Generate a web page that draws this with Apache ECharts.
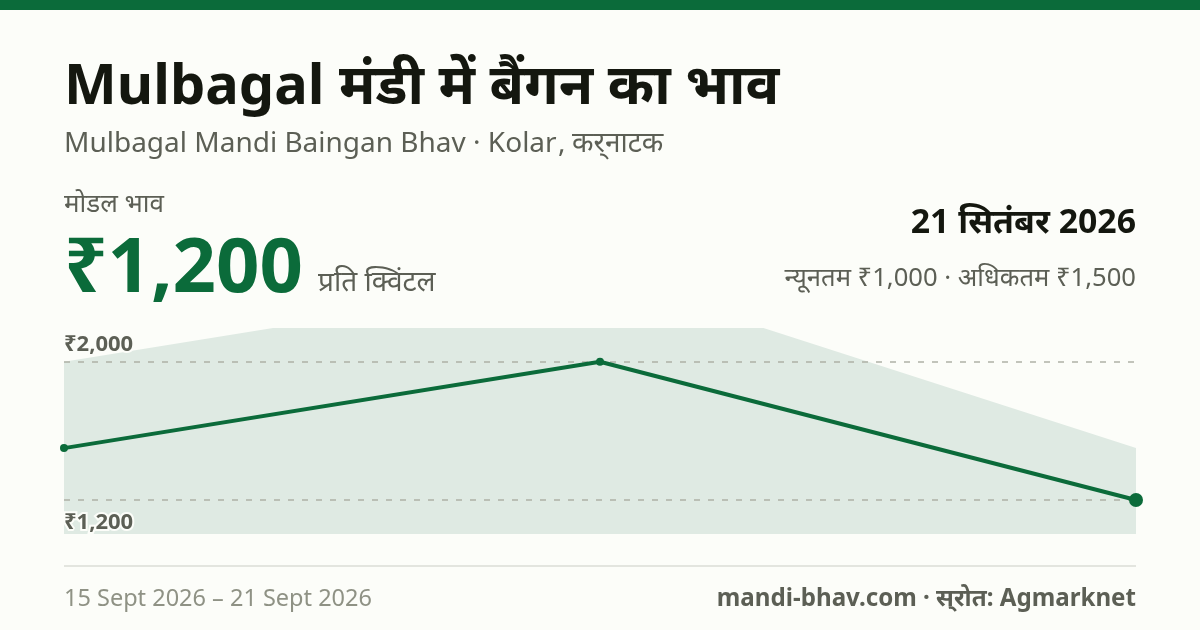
<!DOCTYPE html>
<html>
<head>
<meta charset="utf-8">
<style>
html,body{margin:0;padding:0;background:#fcfdf9}
#main{width:1200px;height:630px}
</style>
<script src="https://cdn.jsdelivr.net/npm/echarts@6/dist/echarts.min.js"></script>
</head>
<body>
<div id="main"></div>
<script>
var dates = ['15 Sept 2026', '18 Sept 2026', '21 Sept 2026']
var modalPrices = [1500, 2000, 1200]
var minPrices = [1000, 1000, 1000]
var maxPrices = [2000, 2500, 1500]
var refLines = [2000, 1200]
var refLabels = ['₹2,000', '₹1,200']
var pointSizes = [8, 8, 14]

var font = '"Noto Sans", "Noto Sans Devanagari", sans-serif'
var green = '#0b6b3a'
var grey = '#5c5f55'

// y is the vertical middle of the text line
function label(x, y, text, size, weight, color, align) {
    return {
        type: 'text', x: x, y: y, silent: true,
        style: {
            text: text, fontFamily: font, fontSize: size, fontWeight: weight,
            fill: color, textAlign: align || 'left', textVerticalAlign: 'middle'
        }
    }
}

var myChart = echarts.init(document.getElementById('main'))
myChart.setOption({
    animation: false,
    backgroundColor: '#fcfdf9',
    grid: { left: 64, right: 64, top: 328, bottom: 96 },
    xAxis: { type: 'category', data: dates, boundaryGap: false, show: false },
    yAxis: { type: 'value', min: 1003, max: 2195, show: false },
    graphic: [
        { type: 'rect', x: 0, y: 0, shape: { width: 1200, height: 10 }, style: { fill: green } },
        { type: 'rect', x: 64, y: 565, shape: { width: 1072, height: 2 }, style: { fill: '#e3e5df' } },
        label(64, 88, 'Mulbagal मंडी में बैंगन का भाव', 56, 700, '#14170f'),
        label(64, 144, 'Mulbagal Mandi Baingan Bhav · Kolar', 28, 400, grey),
        label(558, 144, ',', 28, 400, grey),
        label(572, 144, 'कर्‌नाटक', 28, 400, grey),
        label(64, 205, 'मोडल भाव', 26, 400, grey),
        label(64, 270, '₹1,200', 76, 700, green),
        label(318, 283, 'प्रति क्विंटल', 28, 400, grey),
        label(1136, 223, '21 सितंबर 2026', 33.8, 700, '#14170f', 'right'),
        label(1136, 279, 'न्यूनतम ₹1,000 · अधिकतम ₹1,500', 25.6, 400, grey, 'right'),
        label(64, 599, dates[0] + ' – ' + dates[2], 23.5, 400, '#8f9285'),
        label(1136, 599, 'mandi-bhav.com · स्‌रोत: Agmarknet', 24.15, 700, grey, 'right')
    ],
    series: [
        {
            type: 'line', stack: 'range', data: minPrices, symbol: 'none',
            lineStyle: { width: 0 }, silent: true
        },
        {
            type: 'line', stack: 'range', symbol: 'none', silent: true,
            data: maxPrices.map(function (v, i) { return v - minPrices[i] }),
            lineStyle: { width: 0 },
            areaStyle: { color: '#dfeae3', opacity: 1 }
        },
        {
            type: 'line', data: modalPrices, z: 5, symbol: 'circle',
            symbolSize: function (v, p) { return pointSizes[p.dataIndex] },
            lineStyle: { color: green, width: 4 },
            itemStyle: { color: green },
            markLine: {
                silent: true, symbol: 'none',
                lineStyle: { color: '#aeb1a7', width: 1.5, type: [6, 8] },
                data: refLines.map(function (v, i) {
                    return {
                        yAxis: v,
                        label: {
                            show: true, formatter: refLabels[i],
                            position: i === 0 ? 'insideStartTop' : 'insideStartBottom',
                            distance: i === 0 ? [0, 6] : [0, 12],
                            fontFamily: font, fontSize: 22, fontWeight: 700, color: grey,
                            textBorderColor: '#fcfdf9', textBorderWidth: 4
                        }
                    }
                })
            }
        }
    ]
})
</script>
</body>
</html>
